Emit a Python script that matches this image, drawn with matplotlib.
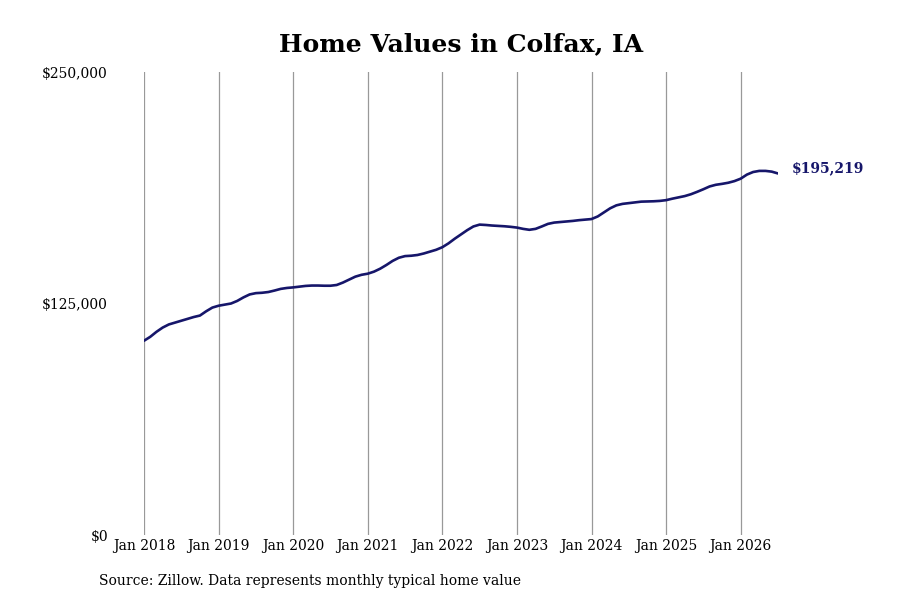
import numpy as np
import matplotlib
matplotlib.use("Agg")
import matplotlib.pyplot as plt

plt.rcParams['font.family'] = ['DejaVu Serif']

# monthly typical home value, Jan 2018 .. Jul 2026
values = [
    104900, 107000, 109700, 112000, 113700, 114700, 115700, 116700, 117700, 118500, 120800, 122800,
    123800, 124400, 125000, 126400, 128300, 129900, 130600, 130800, 131200, 132000, 132900, 133400,
    133700, 134100, 134500, 134700, 134700, 134600, 134600, 135000, 136300, 137900, 139500, 140500,
    141100, 142200, 143800, 145800, 148000, 149700, 150600, 150800, 151200, 152000, 153000, 154000,
    155400, 157500, 160000, 162300, 164600, 166600, 167600, 167400, 167100, 166900, 166700, 166400,
    166000, 165300, 164800, 165300, 166600, 168000, 168700, 169000, 169300, 169600, 170000, 170300,
    170600, 172000, 174200, 176400, 178000, 178800, 179200, 179600, 180000, 180100, 180200, 180400,
    180800, 181600, 182300, 183000, 184000, 185300, 186700, 188200, 189100, 189600, 190200, 191100,
    192400, 194600, 196000, 196600, 196600, 196200, 195219,
]
years = list(range(2018, 2027))
tick_labels = ["Jan %d" % y for y in years]
y_ticks = [0, 125000, 250000]
y_labels = ["$0", "$125,000", "$250,000"]

months = np.arange(len(values))
line_color = '#16166a'

fig = plt.figure(figsize=(9, 6), dpi=100)
ax = fig.add_axes([0.16, 0.1083, 0.7044, 0.7717])

ax.plot(months, values, color=line_color, lw=1.9, solid_capstyle='round')
ax.set_xlim(0, len(values) - 1)
ax.set_ylim(0, 250000)

ax.set_xticks([12 * i for i in range(len(years))])
ax.set_xticklabels(tick_labels, fontsize=10)
ax.set_yticks(y_ticks)
ax.set_yticklabels(y_labels, fontsize=10)
ax.tick_params(axis='x', length=0, pad=3)
ax.tick_params(axis='y', length=0, pad=26)
ax.xaxis.grid(True, color='#999999', lw=0.9)
ax.yaxis.grid(False)
for s in ax.spines.values():
    s.set_visible(False)

ax.annotate("${:,}".format(values[-1]), xy=(months[-1], values[-1]),
            xytext=(10, 4), textcoords='offset points', fontsize=10,
            fontweight='bold', color=line_color, va='center', ha='left')

ax.set_title("Home Values in Colfax, IA", fontsize=18, fontweight='bold', pad=15)
fig.text(0.11, 0.031, "Source: Zillow. Data represents monthly typical home value",
         fontsize=10, va='center', ha='left')

fig.savefig("out.png", dpi=100)
